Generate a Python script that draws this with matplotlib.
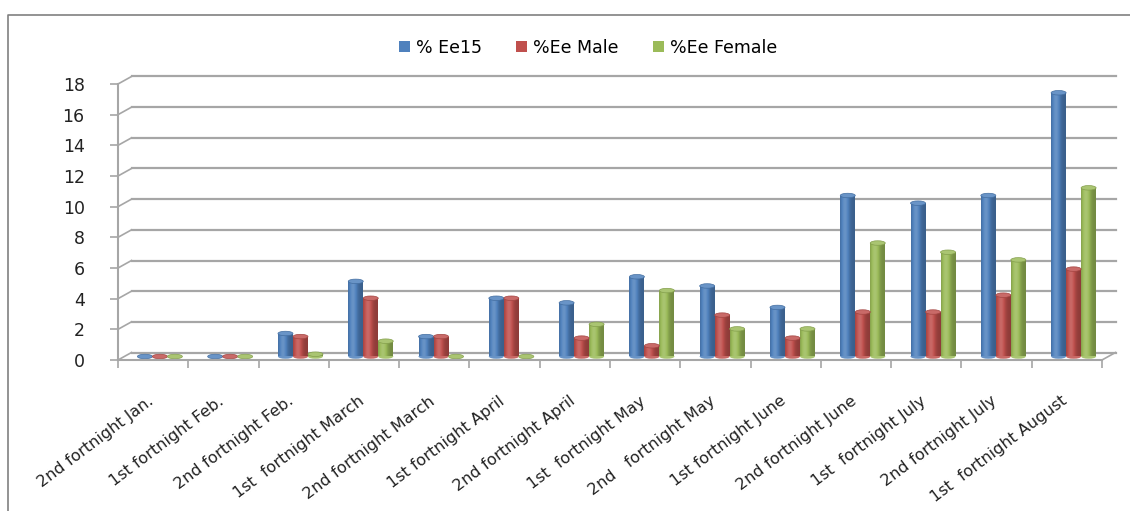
import matplotlib
matplotlib.use("Agg")
import matplotlib.pyplot as plt
import matplotlib.transforms as mtransforms
import numpy as np
from matplotlib.patches import Rectangle, Ellipse
from matplotlib.lines import Line2D
from matplotlib.colors import to_rgb

# ------------------------------
# Data
# ------------------------------
categories = ["2nd fortnight Jan.", "1st fortnight Feb.", "2nd fortnight Feb.",
              "1st  fortnight March", "2nd fortnight March", "1st fortnight April",
              "2nd fortnight April", "1st  fortnight May", "2nd   fortnight May",
              "1st fortnight June", "2nd fortnight June", "1st  fortnight July",
              "2nd fortnight July", "1st  fortnight August"]
ee15 = [0, 0, 1.5, 4.9, 1.3, 3.8, 3.5, 5.2, 4.6, 3.2, 10.5, 10.0, 10.5, 17.2]
ee_male = [0, 0, 1.3, 3.8, 1.3, 3.8, 1.2, 0.7, 2.7, 1.2, 2.9, 2.9, 4.0, 5.7]
ee_female = [0, 0, 0.15, 1.0, 0, 0, 2.1, 4.3, 1.8, 1.8, 7.4, 6.8, 6.3, 11.0]
series_names = ["% Ee15", "%Ee Male", "%Ee Female"]
series_colors = ["#4F81BD", "#C0504D", "#9BBB59"]
yticks = list(range(0, 20, 2))

# ------------------------------
# Figure / axes (pixel-matched)
# ------------------------------
W, H = 1130, 511
fig = plt.figure(figsize=(W / 100, H / 100), dpi=100)
ax = fig.add_axes([118 / W, (H - 360) / H, 984 / W, 276 / H])
n = len(categories)
ax.set_xlim(0, n)
ax.set_ylim(0, 18)

px_x = n / 984.0      # data units per pixel (x)
px_y = 18 / 276.0     # data units per pixel (y)
dx, dy = 13.5 * px_x, 7.5 * px_y   # depth offset of back wall
grid_col = "#a6a6a6"

# back wall gridlines + side-wall diagonals
for v in yticks:
    ax.add_line(Line2D([dx, n + dx], [v + dy, v + dy], color=grid_col, lw=1.6,
                       zorder=1, clip_on=False))
    ax.add_line(Line2D([0, dx], [v, v + dy], color=grid_col, lw=1.2,
                       zorder=1, clip_on=False))
# floor right edge
ax.add_line(Line2D([n, n + dx], [0, dy], color=grid_col, lw=1.2, zorder=1, clip_on=False))

# ------------------------------
# Cylinder bars
# ------------------------------
def shade(color):
    base = np.array(to_rgb(color))
    t = np.linspace(0, 1, 40)
    f = 0.74 + 0.42 * np.exp(-((t - 0.33) / 0.3) ** 2)
    rgb = np.empty((1, len(t), 3))
    for i, k in enumerate(f):
        if k <= 1:
            rgb[0, i] = base * k
        else:
            rgb[0, i] = base + (1 - base) * (k - 1) * 0.9
    return np.clip(rgb, 0, 1)

bw = 15 * px_x
eh = 4.5 * px_y
base_y = 3.5 * px_y
for i in range(n):
    for j, vals in enumerate([ee15, ee_male, ee_female]):
        v = vals[i]
        xc = i + 0.5 + (j - 1) * bw + dx / 2
        col = series_colors[j]
        grad = shade(col)
        if v > 0:
            body = Rectangle((xc - bw / 2, base_y), bw, v, facecolor="none",
                             edgecolor="none", zorder=3)
            ax.add_patch(body)
            im = ax.imshow(grad, extent=(xc - bw / 2, xc + bw / 2, base_y, base_y + v),
                           aspect="auto", zorder=3, interpolation="bilinear")
            im.set_clip_path(body)
            ax.add_patch(Ellipse((xc, base_y), bw, eh, facecolor=grad[0, 12],
                                 edgecolor="none", zorder=2.9))
        top = np.array(to_rgb(col))
        top = top + (1 - top) * 0.15
        ax.add_patch(Ellipse((xc, base_y + v), bw, eh, facecolor=top,
                             edgecolor=np.array(to_rgb(col)) * 0.85, lw=0.5, zorder=3.5))

ax.set_xlim(0, n)
ax.set_ylim(0, 18)

# ------------------------------
# Axes styling
# ------------------------------
for s in ["top", "right"]:
    ax.spines[s].set_visible(False)
for s in ["left", "bottom"]:
    ax.spines[s].set_color(grid_col)
    ax.spines[s].set_linewidth(1.5)
    ax.spines[s].set_zorder(4)

ax.set_yticks(yticks)
ax.set_yticklabels([str(v) for v in yticks], fontsize=12.5, color="#222222")
ax.tick_params(axis="y", length=6, width=1.2, color=grid_col, pad=18)

ax.set_xticks(np.arange(n) + 0.5)
ax.set_xticklabels(categories, rotation=37, ha="right", rotation_mode="anchor",
                   fontsize=11.5, color="#222222")
ax.tick_params(axis="x", which="major", length=0, pad=24)
shift = mtransforms.ScaledTranslation(-6 / 100, 0, fig.dpi_scale_trans)
for lab in ax.get_xticklabels():
    lab.set_transform(lab.get_transform() + shift)
ax.set_xticks(np.arange(n + 1), minor=True)
ax.tick_params(axis="x", which="minor", length=6, width=1.2, color=grid_col)

# ------------------------------
# Legend
# ------------------------------
handles = [Rectangle((0, 0), 1, 1, facecolor=c, edgecolor="none") for c in series_colors]
fig.legend(handles, series_names, loc="center", bbox_to_anchor=(588 / W, 1 - 48 / H),
           ncol=3, frameon=False, fontsize=12.5, handlelength=0.6, handleheight=0.6,
           handletextpad=0.35, columnspacing=2.0)

# chart border
fig.add_artist(Line2D([8 / W, 8 / W, 1], [0, 1 - 15 / H, 1 - 15 / H],
                      transform=fig.transFigure, color="#808080", lw=1.2))

fig.savefig("out.png", dpi=100, facecolor="white")
